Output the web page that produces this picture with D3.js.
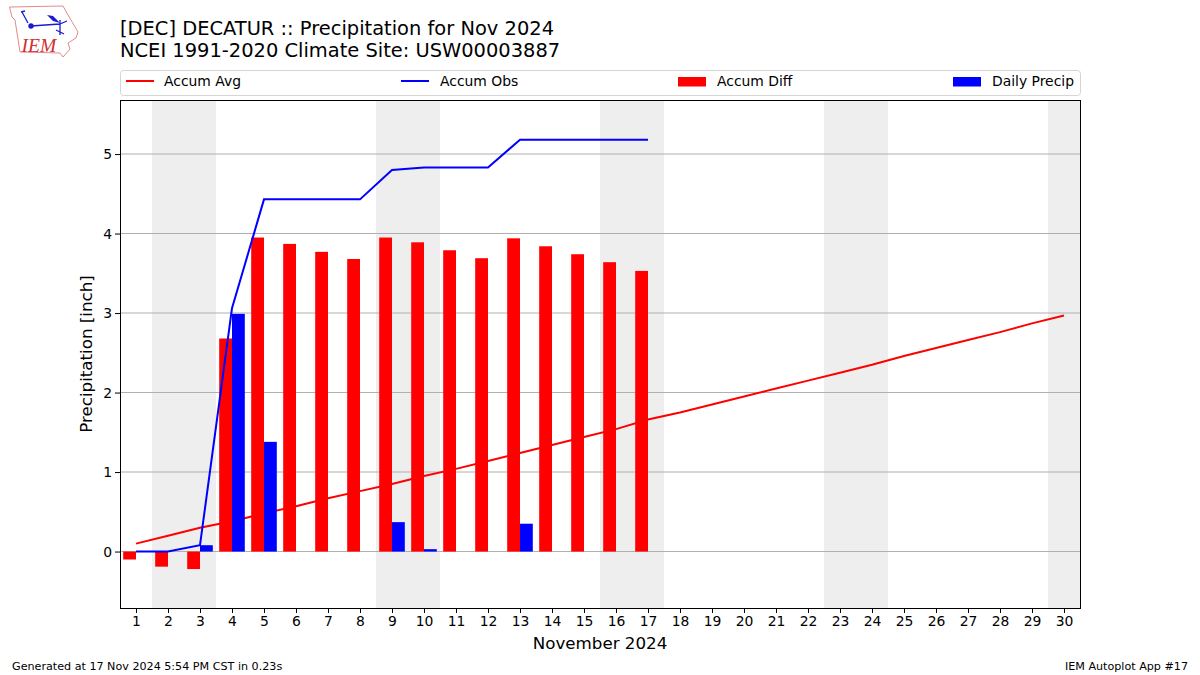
<!DOCTYPE html>
<html>
<head>
<meta charset="utf-8">
<script src="https://cdn.jsdelivr.net/npm/d3@7"></script>
<style>
    html, body { margin: 0; padding: 0; background: #fff; }
    svg { display: block; }
    text { font-family: "DejaVu Sans", sans-serif; fill: #000; }
</style>
</head>
<body>
<svg id="chart" width="1200" height="675"></svg>
<script>
var days = d3.range(1, 31);

var accumAvg = [0.10, 0.20, 0.30, 0.38, 0.48, 0.57, 0.67, 0.76, 0.85, 0.95,
                1.04, 1.14, 1.24, 1.34, 1.44, 1.54, 1.66, 1.75, 1.85, 1.95,
                2.05, 2.15, 2.25, 2.35, 2.46, 2.56, 2.66, 2.76, 2.87, 2.97];
var accumObs = [0, 0, 0.08, 3.06, 4.43, 4.43, 4.43, 4.43, 4.80, 4.83,
                4.83, 4.83, 5.18, 5.18, 5.18, 5.18, 5.18];
var accumDiff = [-0.10, -0.19, -0.22, 2.68, 3.95, 3.87, 3.77, 3.68, 3.95, 3.89,
                 3.79, 3.69, 3.94, 3.84, 3.74, 3.64, 3.53];
var dailyPrecip = [0, 0, 0.08, 2.99, 1.38, 0, 0, 0, 0.37, 0.03,
                   0, 0, 0.35, 0, 0, 0, 0];
var weekendBands = [[1.5, 3.5], [8.5, 10.5], [15.5, 17.5], [22.5, 24.5], [29.5, 30.5]];
var yTicks = [0, 1, 2, 3, 4, 5];

var left = 120, right = 1080, top_ = 100, bottom = 608;
var barWidth = 0.4;

var svg = d3.select('#chart');

var x = d3.scaleLinear().domain([0.5, 30.5]).range([left, right]),
    y = d3.scaleLinear().domain([-0.71, 5.68]).range([bottom, top_]);

// Weekends, then grid
svg.selectAll('rect.band')
    .data(weekendBands)
  .enter().append('rect')
    .attr('class', 'band')
    .attr('x', function(d) { return x(d[0]); })
    .attr('y', top_)
    .attr('width', function(d) { return x(d[1]) - x(d[0]); })
    .attr('height', bottom - top_)
    .attr('fill', '#eeeeee');

svg.selectAll('line.grid')
    .data(yTicks)
  .enter().append('line')
    .attr('class', 'grid')
    .attr('x1', left)
    .attr('x2', right)
    .attr('y1', function(d) { return y(d); })
    .attr('y2', function(d) { return y(d); })
    .attr('stroke', '#b0b0b0')
    .attr('stroke-width', 1.1);

var line = d3.line()
    .x(function(d, i) { return x(i + 1); })
    .y(function(d) { return y(d); });

// Avg line sits under the bars, obs line on top
svg.append('path')
    .attr('d', line(accumAvg))
    .attr('fill', 'none')
    .attr('stroke', '#ff0000')
    .attr('stroke-width', 2);

svg.selectAll('rect.diff')
    .data(accumDiff)
  .enter().append('rect')
    .attr('class', 'diff')
    .attr('x', function(d, i) { return x(i + 1 - barWidth); })
    .attr('y', function(d) { return y(Math.max(d, 0)); })
    .attr('width', x(1) - x(1 - barWidth))
    .attr('height', function(d) { return Math.abs(y(d) - y(0)); })
    .attr('fill', '#ff0000');

svg.selectAll('rect.daily')
    .data(dailyPrecip)
  .enter().append('rect')
    .attr('class', 'daily')
    .attr('x', function(d, i) { return x(i + 1); })
    .attr('y', function(d) { return y(d); })
    .attr('width', x(1) - x(1 - barWidth))
    .attr('height', function(d) { return y(0) - y(d); })
    .attr('fill', '#0000ff');

svg.append('path')
    .attr('d', line(accumObs))
    .attr('fill', 'none')
    .attr('stroke', '#0000ff')
    .attr('stroke-width', 2);

// Axes
var xAxis = d3.axisBottom(x).tickValues(days).tickSize(5).tickPadding(3).tickFormat(d3.format('d')),
    yAxis = d3.axisLeft(y).tickValues(yTicks).tickSize(5).tickPadding(3).tickFormat(d3.format('d'));

var gx = svg.append('g').attr('transform', 'translate(0,' + bottom + ')').call(xAxis),
    gy = svg.append('g').attr('transform', 'translate(' + left + ',0)').call(yAxis);

[gx, gy].forEach(function(g) {
    g.select('.domain').remove();
    g.selectAll('text').style('font-size', '13.9px').style('font-family', '"DejaVu Sans"');
    g.selectAll('line').attr('stroke', '#000').attr('stroke-width', 1);
});

svg.append('rect')
    .attr('x', left + 0.5)
    .attr('y', top_ + 0.5)
    .attr('width', right - left)
    .attr('height', bottom - top_)
    .attr('fill', 'none')
    .attr('stroke', '#000')
    .attr('stroke-width', 1);

svg.append('text')
    .attr('x', 600)
    .attr('y', 649)
    .attr('text-anchor', 'middle')
    .style('font-size', '16.7px')
    .text('November 2024');

svg.append('text')
    .attr('transform', 'translate(92,354) rotate(-90)')
    .attr('text-anchor', 'middle')
    .style('font-size', '16.7px')
    .text('Precipitation [inch]');

// Titles and footer
svg.append('text').attr('x', 120).attr('y', 35).style('font-size', '19.45px')
    .text('[DEC] DECATUR :: Precipitation for Nov 2024');
svg.append('text').attr('x', 120).attr('y', 57).style('font-size', '19.45px')
    .text('NCEI 1991-2020 Climate Site: USW00003887');
svg.append('text').attr('x', 12).attr('y', 670).style('font-size', '11.15px')
    .text('Generated at 17 Nov 2024 5:54 PM CST in 0.23s');
svg.append('text').attr('x', 1188).attr('y', 670).attr('text-anchor', 'end').style('font-size', '11.15px')
    .text('IEM Autoplot App #17');

// Legend
svg.append('rect')
    .attr('x', left + 0.5)
    .attr('y', 70.5)
    .attr('width', right - left)
    .attr('height', 25)
    .attr('rx', 3)
    .attr('fill', '#fff')
    .attr('stroke', '#d5d5d5');

var legendItems = [
    {label: 'Accum Avg', color: '#ff0000', type: 'line', x0: 126, tx: 164},
    {label: 'Accum Obs', color: '#0000ff', type: 'line', x0: 401, tx: 440},
    {label: 'Accum Diff', color: '#ff0000', type: 'rect', x0: 678, tx: 717},
    {label: 'Daily Precip', color: '#0000ff', type: 'rect', x0: 953, tx: 992}
];
legendItems.forEach(function(item) {
    if (item.type === 'line') {
        svg.append('line')
            .attr('x1', item.x0).attr('x2', item.x0 + 28)
            .attr('y1', 81).attr('y2', 81)
            .attr('stroke', item.color).attr('stroke-width', 2);
    } else {
        svg.append('rect')
            .attr('x', item.x0).attr('y', 77)
            .attr('width', 28).attr('height', 9.5)
            .attr('fill', item.color);
    }
    svg.append('text').attr('x', item.tx).attr('y', 86).style('font-size', '13.9px').text(item.label);
});

// IEM logo
var logo = svg.append('g');
logo.append('path')
    .attr('d', 'M9.5,7 L63,6 L68,15 L78,32 L76,38 L68,43 L70,49 L63,57 L60,53 L20,52 L15,20 L12,17 Z')
    .attr('fill', '#fff')
    .attr('stroke', '#e58a8a')
    .attr('stroke-width', 1);
logo.append('path')
    .attr('d', 'M31,26 L60,24 M60,20 L60,35 M22,12 L28,23 M21,12 L25,11 M56,30 L64,34 M60,24 L67,21')
    .attr('fill', 'none')
    .attr('stroke', '#1a1ad0')
    .attr('stroke-width', 1.3);
logo.append('path')
    .attr('d', 'M47,15 L53,16 L60,23 L53,21 Z')
    .attr('fill', '#1a1ad0');
logo.append('circle').attr('cx', 31).attr('cy', 26).attr('r', 2.7).attr('fill', '#1a1ad0');
logo.append('text')
    .attr('x', 21.5).attr('y', 51.5)
    .style('font-family', '"Liberation Serif", serif')
    .style('font-style', 'italic')
    .style('font-size', '19.5px')
    .style('fill', '#d03030')
    .text('IEM');
</script>
</body>
</html>
